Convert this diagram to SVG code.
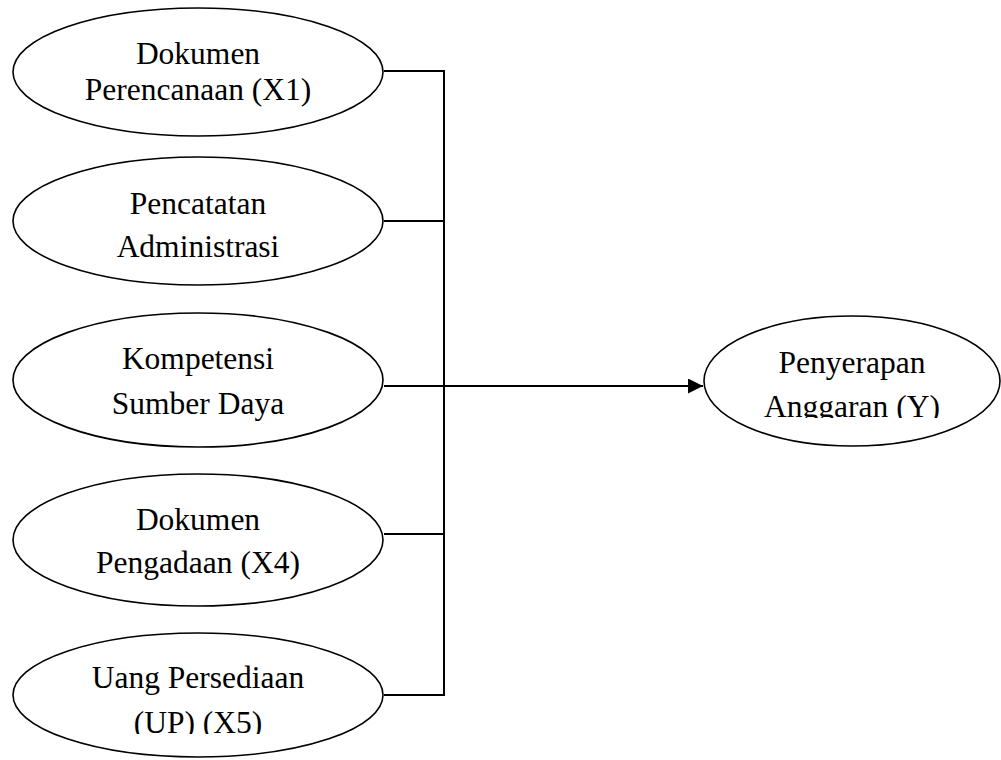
<svg xmlns="http://www.w3.org/2000/svg" width="1001" height="760" viewBox="0 0 1001 760">
<style>
.n{fill:#fff;stroke:#000;stroke-width:1.6}
.t{font-family:"Liberation Serif","Times New Roman",serif;font-size:31.5px;fill:#000;text-anchor:middle}
.c{fill:none;stroke:#000;stroke-width:2}
</style>
<defs>
<marker id="ah" markerWidth="16" markerHeight="16" refX="15" refY="7.5" orient="auto" markerUnits="userSpaceOnUse">
<path d="M0,0 L15,7.5 L0,15 Z" fill="#000"/>
</marker>
<clipPath id="clip5"><rect x="0" y="600" width="440" height="134"/></clipPath>
<clipPath id="clipY"><rect x="700" y="300" width="301" height="118"/></clipPath>
</defs>
<rect width="1001" height="760" fill="#fff"/>
<g id="connectors">
<path class="c" d="M384,71 H444 M384,221 H444 M384,534 H444 M384,695 H444 M444,70 V696"/>
<path class="c" d="M384,386 H703" marker-end="url(#ah)"/>
</g>
<g id="x1">
<ellipse class="n" cx="198" cy="72" rx="185" ry="64"/>
<text class="t" x="198" y="64">Dokumen</text>
<text class="t" x="198" y="100">Perencanaan (X1)</text>
</g>
<g id="x2">
<ellipse class="n" cx="198" cy="221" rx="185" ry="64"/>
<text class="t" x="198" y="214">Pencatatan</text>
<text class="t" x="198" y="257">Administrasi</text>
</g>
<g id="x3">
<ellipse class="n" cx="198" cy="380" rx="185" ry="67"/>
<text class="t" x="198" y="369">Kompetensi</text>
<text class="t" x="198" y="414">Sumber Daya</text>
</g>
<g id="x4">
<ellipse class="n" cx="198" cy="540" rx="185" ry="66"/>
<text class="t" x="198" y="530">Dokumen</text>
<text class="t" x="198" y="573">Pengadaan (X4)</text>
</g>
<g id="x5">
<ellipse class="n" cx="198" cy="695" rx="185" ry="62"/>
<text class="t" x="198" y="688">Uang Persediaan</text>
<text class="t" x="198" y="733" clip-path="url(#clip5)">(UP) (X5)</text>
</g>
<g id="y">
<ellipse class="n" cx="852" cy="381" rx="148" ry="65"/>
<text class="t" x="852" y="373">Penyerapan</text>
<text class="t" x="852" y="417" clip-path="url(#clipY)">Anggaran (Y)</text>
</g>
</svg>
